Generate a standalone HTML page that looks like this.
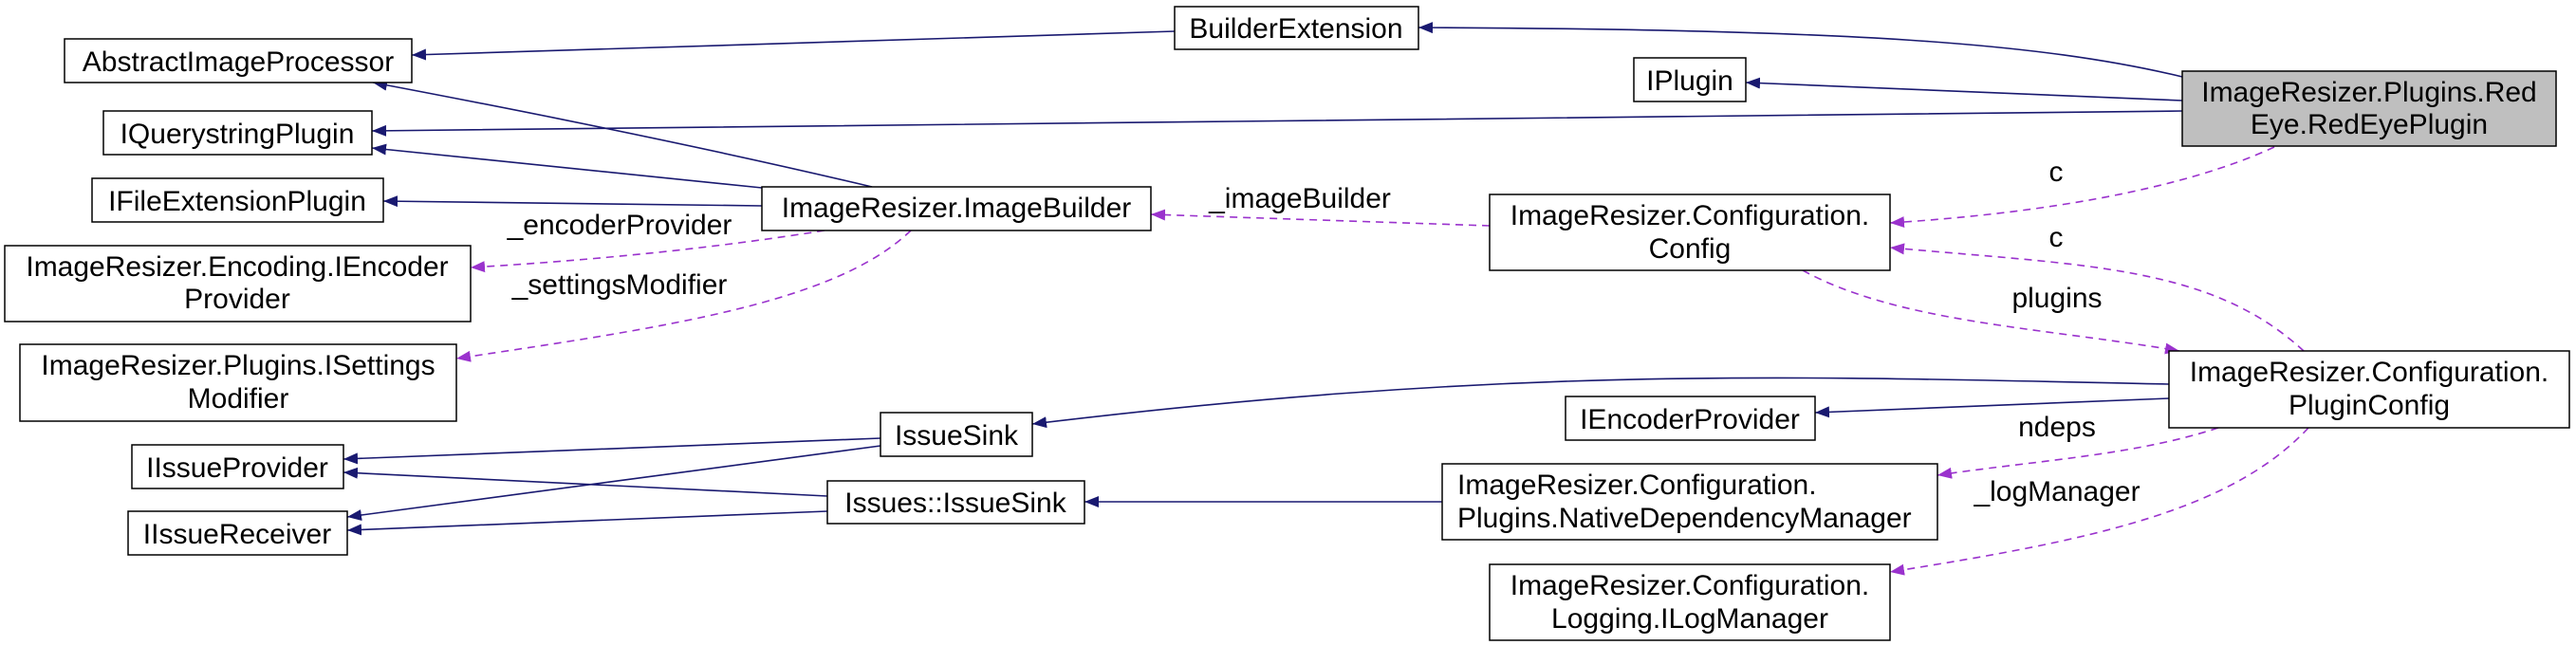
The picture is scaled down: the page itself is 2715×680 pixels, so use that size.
<!DOCTYPE html>
<html><head><meta charset="utf-8"><style>
html,body{margin:0;padding:0;background:#fff;}
svg{display:block;}
text{font-family:"Liberation Sans",Arial,sans-serif;font-size:30px;fill:#000;}
.b{fill:#fff;stroke:#000;stroke-width:1.5;}
.s{fill:none;stroke:#191970;stroke-width:1.6;}
.d{fill:none;stroke:#9a32cd;stroke-width:1.6;stroke-dasharray:8,6;}
</style></head><body>
<svg width="2715" height="680" viewBox="0 0 2715 680" xmlns="http://www.w3.org/2000/svg">
<defs>
<marker id="ms" markerUnits="userSpaceOnUse" markerWidth="16" markerHeight="14" refX="15" refY="7" orient="auto"><path d="M0,1 L15,7 L0,13 z" fill="#191970"/></marker>
<marker id="md" markerUnits="userSpaceOnUse" markerWidth="16" markerHeight="14" refX="15" refY="7" orient="auto"><path d="M0,1 L15,7 L0,13 z" fill="#9a32cd"/></marker>
</defs>
<!-- edges solid -->
<path class="s" marker-end="url(#ms)" d="M2300,81 C2150,45 1950,31 1495,29"/>
<path class="s" marker-end="url(#ms)" d="M2300,106 L1840,87"/>
<path class="s" marker-end="url(#ms)" d="M2300,117 L1300,128 L392,138"/>
<path class="s" marker-end="url(#ms)" d="M1238,33 L434,58"/>
<path class="s" marker-end="url(#ms)" d="M919,197 Q700,145 393,87"/>
<path class="s" marker-end="url(#ms)" d="M803,198 L392,156"/>
<path class="s" marker-end="url(#ms)" d="M803,217 L404,212"/>
<path class="s" marker-end="url(#ms)" d="M2286,405 C1900,397 1600,385 1088,447"/>
<path class="s" marker-end="url(#ms)" d="M2286,420 L1913,435"/>
<path class="s" marker-end="url(#ms)" d="M1520,529 L1143,529"/>
<path class="s" marker-end="url(#ms)" d="M928,462 L362,484"/>
<path class="s" marker-end="url(#ms)" d="M928,470 L366,545"/>
<path class="s" marker-end="url(#ms)" d="M872,523 L362,498"/>
<path class="s" marker-end="url(#ms)" d="M872,539 L366,559"/>
<!-- dashed -->
<path class="d" marker-end="url(#md)" d="M869,243 Q700,270 496,282"/>
<path class="d" marker-end="url(#md)" d="M960,243 C880,320 700,345 481,378"/>
<path class="d" marker-end="url(#md)" d="M1570,238 L1213,226"/>
<path class="d" marker-end="url(#md)" d="M2397,155 C2300,200 2150,225 1992,235"/>
<path class="d" marker-end="url(#md)" d="M2428,370 C2330,280 2200,280 1992,261"/>
<path class="d" marker-end="url(#md)" d="M1900,285 C2000,340 2150,345 2297,370"/>
<path class="d" marker-end="url(#md)" d="M2338,451 C2250,480 2150,485 2042,501"/>
<path class="d" marker-end="url(#md)" d="M2433,451 C2350,540 2200,570 1992,603"/>
<!-- nodes -->
<rect class="b" x="68" y="41" width="366" height="46"/><text x="251" y="75" text-anchor="middle">AbstractImageProcessor</text>
<rect class="b" x="109" y="117" width="283" height="46"/><text x="250" y="151" text-anchor="middle">IQuerystringPlugin</text>
<rect class="b" x="97" y="188" width="307" height="46"/><text x="250" y="222" text-anchor="middle">IFileExtensionPlugin</text>
<rect class="b" x="5" y="259" width="491" height="80"/><text x="250" y="291" text-anchor="middle">ImageResizer.Encoding.IEncoder</text><text x="250" y="325" text-anchor="middle">Provider</text>
<rect class="b" x="21" y="363" width="460" height="81"/><text x="251" y="395" text-anchor="middle">ImageResizer.Plugins.ISettings</text><text x="251" y="430" text-anchor="middle">Modifier</text>
<rect class="b" x="139" y="469" width="223" height="46"/><text x="250" y="503" text-anchor="middle">IIssueProvider</text>
<rect class="b" x="135" y="539" width="231" height="46"/><text x="250" y="573" text-anchor="middle">IIssueReceiver</text>
<rect class="b" x="803" y="197" width="410" height="46"/><text x="1008" y="229" text-anchor="middle">ImageResizer.ImageBuilder</text>
<rect class="b" x="928" y="435" width="160" height="46"/><text x="1008" y="469" text-anchor="middle">IssueSink</text>
<rect class="b" x="872" y="507" width="271" height="45"/><text x="1007" y="540" text-anchor="middle">Issues::IssueSink</text>
<rect class="b" x="1238" y="7" width="257" height="45"/><text x="1366" y="40" text-anchor="middle">BuilderExtension</text>
<rect class="b" x="1722" y="61" width="118" height="46"/><text x="1781" y="95" text-anchor="middle">IPlugin</text>
<rect x="2300" y="75" width="394" height="79" fill="#bfbfbf" stroke="#000" stroke-width="1.5"/><text x="2497" y="107" text-anchor="middle">ImageResizer.Plugins.Red</text><text x="2497" y="141" text-anchor="middle">Eye.RedEyePlugin</text>
<rect class="b" x="1570" y="205" width="422" height="80"/><text x="1781" y="237" text-anchor="middle">ImageResizer.Configuration.</text><text x="1781" y="272" text-anchor="middle">Config</text>
<rect class="b" x="2286" y="370" width="422" height="81"/><text x="2497" y="402" text-anchor="middle">ImageResizer.Configuration.</text><text x="2497" y="437" text-anchor="middle">PluginConfig</text>
<rect class="b" x="1650" y="418" width="263" height="46"/><text x="1781" y="452" text-anchor="middle">IEncoderProvider</text>
<rect class="b" x="1520" y="489" width="522" height="80"/><text x="1536" y="521">ImageResizer.Configuration.</text><text x="1536" y="556">Plugins.NativeDependencyManager</text>
<rect class="b" x="1570" y="595" width="422" height="80"/><text x="1781" y="627" text-anchor="middle">ImageResizer.Configuration.</text><text x="1781" y="662" text-anchor="middle">Logging.ILogManager</text>
<!-- labels -->
<text x="653" y="247" text-anchor="middle">_encoderProvider</text>
<text x="653" y="310" text-anchor="middle">_settingsModifier</text>
<text x="1370" y="219" text-anchor="middle">_imageBuilder</text>
<text x="2167" y="191" text-anchor="middle">c</text>
<text x="2167" y="260" text-anchor="middle">c</text>
<text x="2168" y="324" text-anchor="middle">plugins</text>
<text x="2168" y="460" text-anchor="middle">ndeps</text>
<text x="2168" y="528" text-anchor="middle">_logManager</text>
</svg>
</body></html>
